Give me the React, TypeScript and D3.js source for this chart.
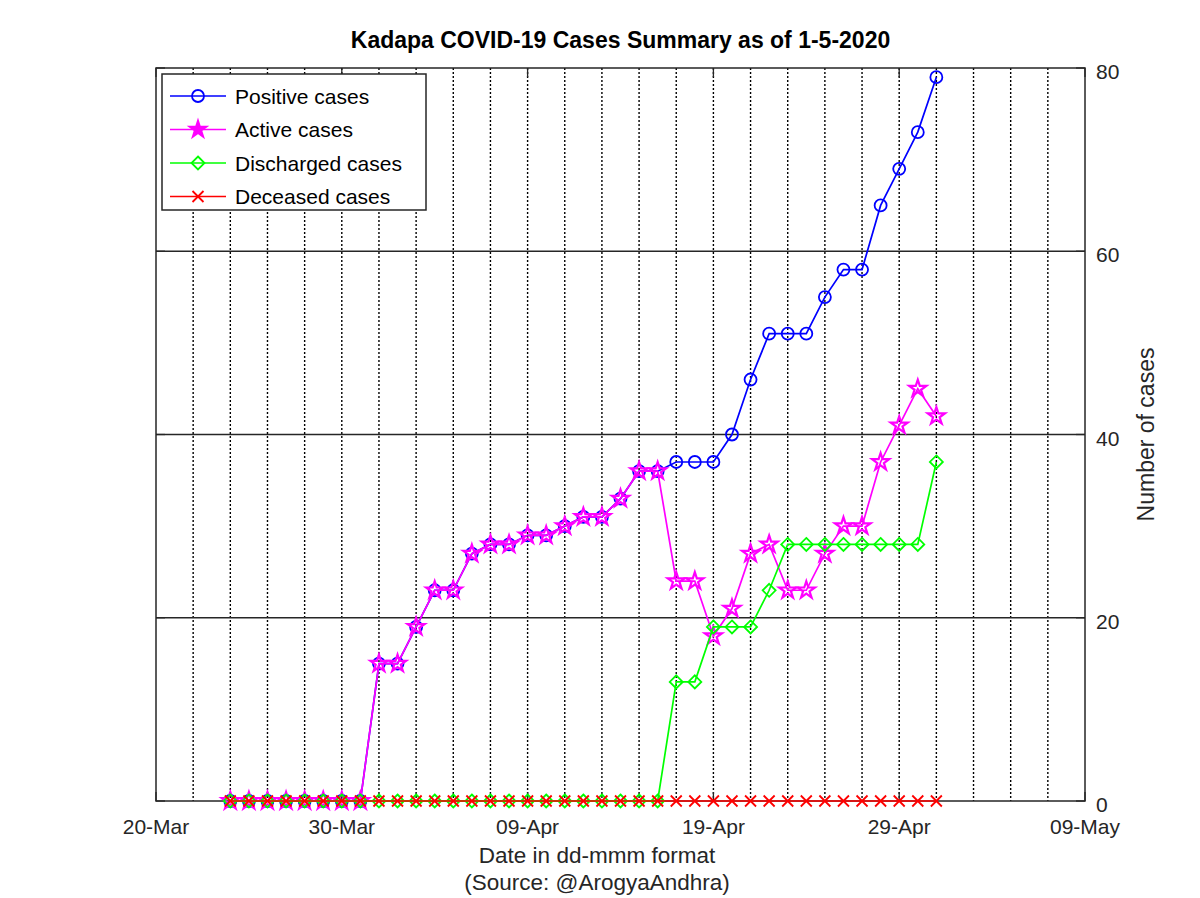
import React from "react";
import * as d3 from "d3";

const dates: string[] = [
  "2020-03-24","2020-03-25","2020-03-26","2020-03-27","2020-03-28","2020-03-29","2020-03-30","2020-03-31",
  "2020-04-01","2020-04-02","2020-04-03","2020-04-04","2020-04-05","2020-04-06","2020-04-07","2020-04-08",
  "2020-04-09","2020-04-10","2020-04-11","2020-04-12","2020-04-13","2020-04-14","2020-04-15","2020-04-16",
  "2020-04-17","2020-04-18","2020-04-19","2020-04-20","2020-04-21","2020-04-22","2020-04-23","2020-04-24",
  "2020-04-25","2020-04-26","2020-04-27","2020-04-28","2020-04-29","2020-04-30","2020-05-01",
];
const positive: number[] = [0,0,0,0,0,0,0,0,15,15,19,23,23,27,28,28,29,29,30,31,31,33,36,36,37,37,37,40,46,51,51,51,55,58,58,65,69,73,79];
const active: number[] = [0,0,0,0,0,0,0,0,15,15,19,23,23,27,28,28,29,29,30,31,31,33,36,36,24,24,18,21,27,28,23,23,27,30,30,37,41,45,42];
const discharged: number[] = [0,0,0,0,0,0,0,0,0,0,0,0,0,0,0,0,0,0,0,0,0,0,0,0,13,13,19,19,19,23,28,28,28,28,28,28,28,28,37];
const deceased: number[] = [0,0,0,0,0,0,0,0,0,0,0,0,0,0,0,0,0,0,0,0,0,0,0,0,0,0,0,0,0,0,0,0,0,0,0,0,0,0,0];

const xTickLabels: string[] = ["20-Mar", "30-Mar", "09-Apr", "19-Apr", "29-Apr", "09-May"];
const yTicks: number[] = [0, 20, 40, 60, 80];
const seriesNames: string[] = ["Positive cases", "Active cases", "Discharged cases", "Deceased cases"];
const seriesColors: string[] = ["#0000ff", "#ff00ff", "#00ff00", "#ff0000"];
const seriesMarkers: string[] = ["circle", "star", "diamond", "x"];

const W = 1200, H = 898;
const L = 156, R = 1085, T = 68, B = 801;
const FONT = "'Liberation Sans', Arial, Helvetica, sans-serif";

const parse = (s: string) => { const [y, m, d] = s.split("-").map(Number); return new Date(Date.UTC(y, m - 1, d)); };

function markerPath(kind: string): string {
  if (kind === "circle") {
    const r = 6;
    return `M${-r},0A${r},${r} 0 1,0 ${r},0A${r},${r} 0 1,0 ${-r},0Z`;
  }
  if (kind === "diamond") {
    const r = 6.5;
    return `M0,${-r}L${r},0L0,${r}L${-r},0Z`;
  }
  if (kind === "x") {
    const r = 5.5;
    return `M${-r},${-r}L${r},${r}M${-r},${r}L${r},${-r}`;
  }
  const ro = 9, ri = ro * 0.382;
  const pts: string[] = [];
  for (let i = 0; i < 10; i++) {
    const a = -Math.PI / 2 + (i * Math.PI) / 5;
    const r = i % 2 === 0 ? ro : ri;
    pts.push(`${(r * Math.cos(a)).toFixed(2)},${(r * Math.sin(a)).toFixed(2)}`);
  }
  return "M" + pts.join("L") + "Z";
}

export default function App() {
  const start = new Date(Date.UTC(2020, 2, 20));
  const x = d3.scaleUtc().domain([start, new Date(Date.UTC(2020, 4, 9))]).range([L, R]);
  const y = d3.scaleLinear().domain([0, 80]).range([B, T]);
  const xTicksMajor = d3.range(0, 51, 10).map((d) => d3.utcDay.offset(start, d));
  const minor = d3.range(2, 50, 2).map((d) => d3.utcDay.offset(start, d));
  const allSeries = [positive, active, discharged, deceased];
  const line = d3.line<[Date, number]>().x((d) => x(d[0])).y((d) => y(d[1]));
  const labelX = 597;

  return (
    <svg width={W} height={H} style={{ position: "absolute", left: 0, top: 0, background: "#fff" }} fontFamily={FONT}>
      <rect x={0} y={0} width={W} height={H} fill="#fff" />
      {minor.map((d, i) => (
        <line key={"g" + i} x1={x(d)} x2={x(d)} y1={T} y2={B} stroke="#000" strokeWidth={1.4} strokeDasharray="2 2" />
      ))}
      {yTicks.filter((v) => v > 0 && v < 80).map((v) => (
        <line key={"h" + v} x1={L} x2={R} y1={y(v)} y2={y(v)} stroke="#262626" strokeWidth={1.4} />
      ))}
      {xTicksMajor.map((d, i) => (
        <g key={"xt" + i}>
          <line x1={x(d)} x2={x(d)} y1={B} y2={B - 9} stroke="#262626" strokeWidth={1.3} />
          <line x1={x(d)} x2={x(d)} y1={T} y2={T + 9} stroke="#262626" strokeWidth={1.3} />
          <text x={x(d)} y={B + 33} textAnchor="middle" fontSize={21} fill="#262626">{xTickLabels[i]}</text>
        </g>
      ))}
      {yTicks.map((v) => (
        <g key={"yt" + v}>
          <line x1={R} x2={R - 9} y1={y(v)} y2={y(v)} stroke="#262626" strokeWidth={1.3} />
          <line x1={L} x2={L + 9} y1={y(v)} y2={y(v)} stroke="#262626" strokeWidth={1.3} />
          <text x={R + 11} y={y(v) + 11} textAnchor="start" fontSize={21} fill="#262626">{v}</text>
        </g>
      ))}
      <rect x={L} y={T} width={R - L} height={B - T} fill="none" stroke="#262626" strokeWidth={1.5} />
      {allSeries.map((vals, si) => {
        const pts: [Date, number][] = dates.map((s, i) => [parse(s), vals[i]]);
        const mp = markerPath(seriesMarkers[si]);
        return (
          <g key={"s" + si}>
            <path d={line(pts) || ""} fill="none" stroke={seriesColors[si]} strokeWidth={1.7} />
            {pts.map((p, i) => (
              <path key={i} d={mp} transform={`translate(${x(p[0])},${y(p[1])})`} fill="none" stroke={seriesColors[si]} strokeWidth={seriesMarkers[si] === "star" ? 2.2 : 1.8} />
            ))}
          </g>
        );
      })}
      <rect x={162} y={74} width={264} height={136} fill="#fff" stroke="#262626" strokeWidth={1.5} />
      {seriesNames.map((n, i) => {
        const ly = 96 + i * 33.5;
        return (
          <g key={"l" + i}>
            <line x1={170} x2={226} y1={ly} y2={ly} stroke={seriesColors[i]} strokeWidth={1.7} />
            <path d={markerPath(seriesMarkers[i])} transform={`translate(198,${ly})`} fill={seriesMarkers[i] === "star" ? seriesColors[i] : "none"} stroke={seriesColors[i]} strokeWidth={1.8} />
            <text x={235} y={ly + 7.5} fontSize={21} fill="#000">{n}</text>
          </g>
        );
      })}
      <text x={(L + R) / 2} y={48} textAnchor="middle" fontSize={23} fontWeight="bold" fill="#000">Kadapa COVID-19 Cases Summary as of 1-5-2020</text>
      <text x={labelX} y={863} textAnchor="middle" fontSize={22.5} fill="#262626">Date in dd-mmm format</text>
      <text x={labelX} y={890} textAnchor="middle" fontSize={22.5} fill="#262626">(Source: @ArogyaAndhra)</text>
      <text transform={`translate(1154,${(T + B) / 2}) rotate(-90)`} textAnchor="middle" fontSize={23} fill="#262626">Number of cases</text>
    </svg>
  );
}
